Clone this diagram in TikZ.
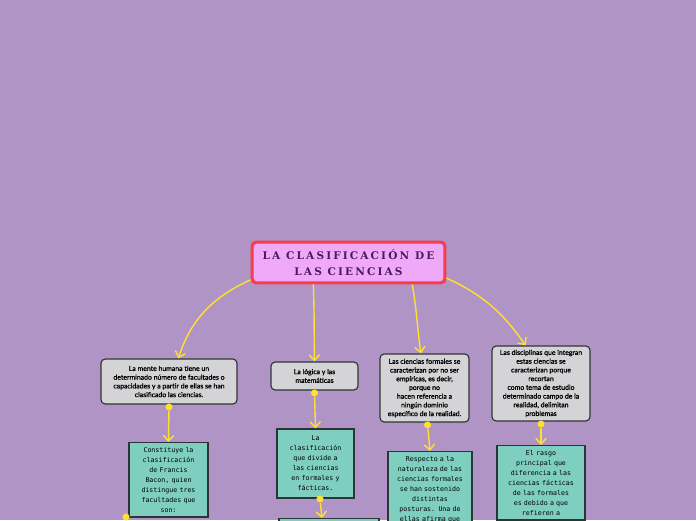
\documentclass[tikz,border=0pt]{standalone}
\usepackage{fontspec}
\usetikzlibrary{arrows.meta,positioning}
\newfontfamily\titlefont[LetterSpace=20]{DejaVu Serif}
\newfontfamily\cardfont[FakeBold=1.2]{Lato}
\newfontfamily\notefont{DejaVu Sans Mono}
\definecolor{Lilac}{HTML}{B094C6}
\definecolor{Rose}{HTML}{F0A8F8}
\definecolor{Crimson}{HTML}{F83C4C}
\definecolor{Plum}{HTML}{4A1A5C}
\definecolor{Silver}{HTML}{D4D4D6}
\definecolor{Mint}{HTML}{7ECFC0}
\definecolor{Ink}{HTML}{2E3436}
\definecolor{Gold}{HTML}{FFE030}
\tikzset{
  title/.style={draw=Crimson,fill=Rose,line width=2.2pt,rounded corners=3pt,minimum width=4.82cm,minimum height=1.02cm,align=center,text=Plum,font=\titlefont\bfseries\fontsize{7.5}{11.4}\selectfont},
  topic/.style={draw=Ink,fill=Silver,line width=.8pt,rounded corners=3pt,align=center,inner sep=1pt,font=\cardfont\fontsize{4.9}{6.2}\selectfont},
  note/.style={draw=Ink,fill=Mint,line width=.8pt,align=center,font=\notefont\fontsize{4.7}{7.1}\selectfont},
  link/.style={-{Straight Barb[length=1.4mm,width=2.6mm]},draw=Gold,line width=1pt},
  dot/.style={circle,fill=Gold,inner sep=0pt,minimum size=5pt},
}
\begin{document}
\begin{tikzpicture}[x=0.025cm,y=0.025cm]
  \fill[Lilac] (0,0) rectangle (696,520);
  \useasboundingbox (0,0) rectangle (696,520);
  \clip (0,0) rectangle (696,520);

  \node[title] (title) at (348.5,257.5) {LA CLASIFICACIÓN DE\\LAS CIENCIAS};

  \node[topic,minimum width=3.4cm,minimum height=1.125cm] (mind) at (169,138.5) {La mente humana tiene un\\determinado número de facultades o\\capacidades y a partir de ellas se han\\clasificado las ciencias.};
  \node[topic,minimum width=2.175cm,minimum height=.7cm] (logic) at (314.5,144) {La lógica y las\\matemáticas};
  \node[topic,minimum width=2.225cm,minimum height=1.7cm] (formal) at (424.5,132) {Las ciencias formales se\\caracterizan por no ser\\empíricas, es decir,\\porque no\\hacen referencia a\\ningún dominio\\específico de la realidad.};
  \node[topic,minimum width=2.45cm,minimum height=1.875cm] (factual) at (541,136.5) {Las disciplinas que integran\\estas ciencias se\\caracterizan porque\\recortan\\como tema de estudio\\determinado campo de la\\realidad, delimitan\\problemas};

  \node[note,text width=1.74cm,anchor=north] (bacon) at (168.5,78) {Constituye la\\clasificación\\de Francis\\Bacon, quien\\distingue tres\\facultades que\\son:};
  \node[note,text width=1.69cm,minimum height=1.725cm] (divide) at (315.5,56.5) {La\\clasificación\\que divide a\\las ciencias\\en formales y\\fácticas.};
  \node[note,text width=1.865cm,anchor=north] (nature) at (430,69) {Respecto a la\\naturaleza de las\\ciencias formales\\se han sostenido\\distintas\\posturas. Una de\\ellas afirma que};
  \node[note,text width=1.965cm,anchor=north] (trait) at (541,75) {El rasgo\\principal que\\diferencia a las\\ciencias fácticas\\de las formales\\es debido a que\\refieren a};
  \node[note,minimum width=2.5cm,minimum height=1cm,anchor=north] (next) at (329,2) {};

  % title to topics
  \draw[link] (title.190) to[out=205,in=72] (mind.68);
  \draw[link] (title.212) to[out=-88,in=91] (logic.north);
  \draw[link] (title.-19) to[out=-80,in=98] (formal.96);
  \draw[link] (title.-9) to[out=-25,in=125] (factual.112);

  % topics to notes
  \node[dot,below=-1pt of mind] (d1) {};
  \node[dot,below=-1pt of logic] (d2) {};
  \node[dot,below=-1pt of formal.-85] (d3) {};
  \node[dot,below=-1pt of factual] (d4) {};
  \node[dot] (d5) at (320,21) {};
  \node[dot] (d6) at (126,3) {};
  \draw[link] (d1) -- (bacon.north);
  \draw[link] (d2) -- (divide.north);
  \draw[link] (d3) -- (nature.north);
  \draw[link] (d4) -- (trait.north);
  \draw[link] (d5) -- (next.109);
\end{tikzpicture}
\end{document}
